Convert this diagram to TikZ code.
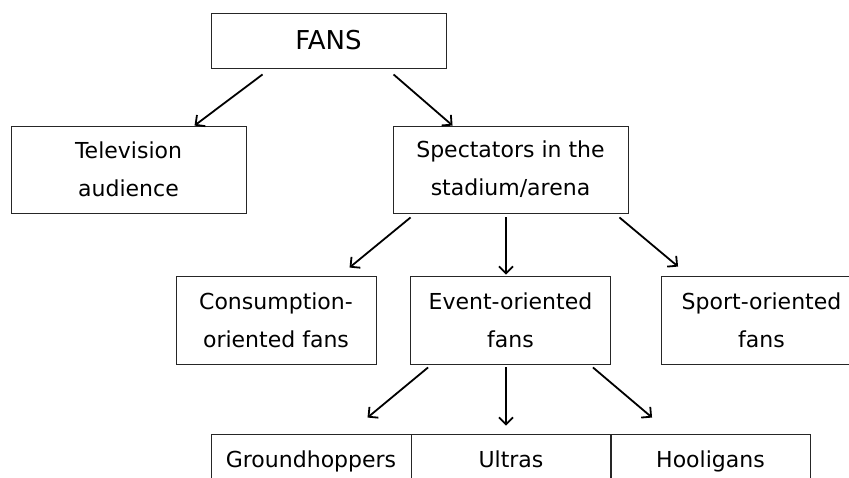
\documentclass[tikz,border=0pt]{standalone}
\usepackage{fontspec}
\setmainfont{DejaVu Sans}
\usetikzlibrary{positioning}
\usetikzlibrary{arrows.meta}
\colorlet{line colour}{black!85}
\tikzset{
    % Arrows with an open barb
    >={Straight Barb[length=7pt,width=14pt,line width=1.8pt]},
%
    % Boxes
    box/.style={
        draw=line colour, rectangle, line width=0.9pt, align=center,
        font=\fontsize{22}{38}\selectfont, inner sep=0pt},
    wide box/.style={box, minimum width=235pt, minimum height=87pt},
    small box/.style={box, minimum width=200pt, minimum height=88pt},
    title box/.style={box, minimum width=235pt, minimum height=55pt,
        font=\fontsize{26}{30}\selectfont},
%
    % Connectors
    link/.style={black, line width=1.8pt, ->},
}

\begin{document}
\begin{tikzpicture}[x=1pt, y=-1pt]

\useasboundingbox (0,0) rectangle (849,477);
\clip (0,0) rectangle (849,477);

% Top of the tree
\path
    (328.5,40.5) node [title box] (fans) {FANS}
    (128.5,169.5) node [wide box] (tv) {Television\\audience}
    (510.5,169.5) node [wide box] (spectators) {Spectators in the\\stadium/arena};

% Kinds of spectators
\path
    (276,320) node [small box] (consumption) {Consumption-\\oriented fans}
    (510.5,320) node [small box] (event) {Event-oriented\\fans}
    (761.5,320) node [small box] (sport) {Sport-oriented\\fans};

% Kinds of event-oriented fans
\path
    (311,478) node [small box] (groundhoppers) {Groundhoppers\\\mbox{}}
    (511,478) node [small box] (ultras) {Ultras\\\mbox{}}
    (710.5,478) node [small box] (hooligans) {Hooligans\\\mbox{}};

\draw [link] ([xshift=52pt,yshift=-6pt]fans.south west)
    -- ([xshift=184pt]tv.north west);
\draw [link] ([xshift=183pt,yshift=-6pt]fans.south west)
    -- ([xshift=60pt]spectators.north west);
\draw [link] ([xshift=18pt,yshift=-4pt]spectators.south west)
    -- ([xshift=174pt,yshift=8pt]consumption.north west);
\draw [link] ([xshift=-4.5pt,yshift=-4pt]spectators.south)
    -- ([xshift=-4.5pt,yshift=1pt]event.north);
\draw [link] ([xshift=-9pt,yshift=-4pt]spectators.south east)
    -- ([xshift=17pt,yshift=9pt]sport.north west);
\draw [link] ([xshift=18pt,yshift=-3pt]event.south west)
    -- ([xshift=157pt,yshift=16pt]groundhoppers.north west);
\draw [link] ([xshift=-4.5pt,yshift=-3pt]event.south)
    -- ([xshift=-5pt,yshift=8pt]ultras.north);
\draw [link] ([xshift=-18pt,yshift=-3pt]event.south east)
    -- ([xshift=42pt,yshift=16pt]hooligans.north west);

\end{tikzpicture}
\end{document}
